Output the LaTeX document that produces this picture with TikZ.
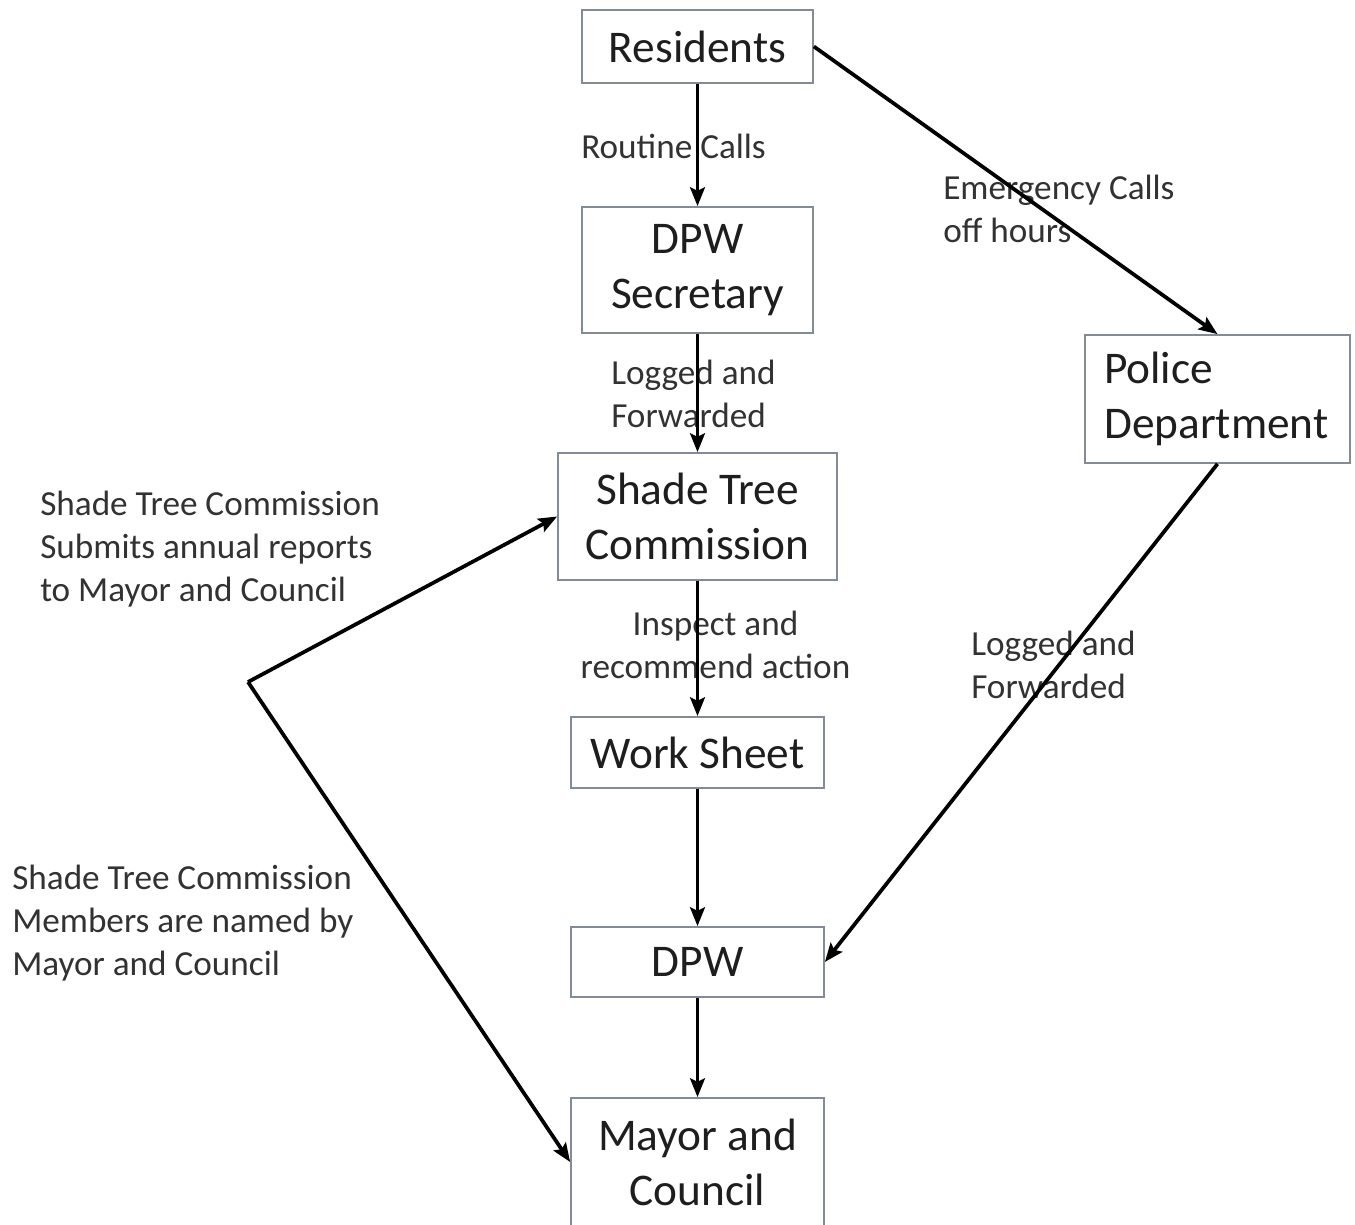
\documentclass[tikz,border=0pt]{standalone}
\usepackage{fontspec}
\setmainfont{Carlito}
\usetikzlibrary{arrows.meta}
\definecolor{boxline}{RGB}{130,140,150}
\definecolor{boxtext}{RGB}{30,30,30}
\definecolor{labtext}{RGB}{50,50,50}
\tikzset{
  boxnode/.style={draw=boxline, line width=1.3pt, fill=white, text=boxtext,
    font=\fontsize{34}{41.25}\selectfont, align=center, inner sep=0pt},
  labnode/.style={text=labtext, font=\fontsize{26.4}{32.25}\selectfont, inner sep=0pt, align=left},
  arr/.style={line width=2.8pt, -{Stealth[length=14pt,width=11pt,inset=2.5pt]}}
}
\begin{document}
\begin{tikzpicture}[x=0.75pt,y=-0.75pt]
\useasboundingbox[fill=white] (0,0) rectangle (1355,1224);
% boxes
\node[boxnode, minimum width=173.25pt, minimum height=54.75pt] (res) at (697.5,46.5) {Residents};
\node[boxnode, minimum width=173.25pt, minimum height=94.5pt] (sec) at (697.5,270) {DPW\\Secretary};
\node[boxnode, minimum width=198.75pt, minimum height=96pt, text width=170pt, align=left] (pol) at (1217.5,399) {Police\\Department};
\node[boxnode, minimum width=209.25pt, minimum height=95.25pt] (stc) at (697.5,516.5) {Shade Tree\\Commission};
\node[boxnode, minimum width=189.75pt, minimum height=53.25pt] (ws) at (697.5,752.5) {Work Sheet};
\node[boxnode, minimum width=189.75pt, minimum height=52.5pt] (dpw) at (697.5,962) {DPW};
\node[boxnode, minimum width=189.75pt, minimum height=96pt] (may) at (697.5,1162) {Mayor and\\Council};
% labels
\node[labnode, anchor=west] (l1) at (581,146) {Routine Calls};
\node[labnode, anchor=west] (l2) at (943,208.5) {Emergency Calls\\off hours};
\node[labnode, anchor=west] (l3) at (611,393.5) {Logged and\\Forwarded};
\node[labnode, anchor=center, align=center] (l4) at (715.5,644.5) {Inspect and\\recommend action};
\node[labnode, anchor=west] (l5) at (971,664.5) {Logged and\\Forwarded};
\node[labnode, anchor=west] (l6) at (40,549.5) {Shade Tree Commission\\Submits annual reports\\to Mayor and Council};
\node[labnode, anchor=west] (l7) at (12,923.5) {Shade Tree Commission\\Members are named by\\Mayor and Council};
% connectors
\coordinate (fork) at (248,682);
\draw[arr] (res) -- (sec);
\draw[arr] (sec) -- (stc);
\draw[arr] (stc) -- (ws);
\draw[arr] (ws) -- (dpw);
\draw[arr] (dpw) -- (may);
\draw[arr] (res.east) -- (pol.north);
\draw[arr] (pol.south) -- (dpw.east);
\draw[arr] (fork) -- (stc.west);
\draw[arr] (fork) -- (may.west);
\end{tikzpicture}
\end{document}
